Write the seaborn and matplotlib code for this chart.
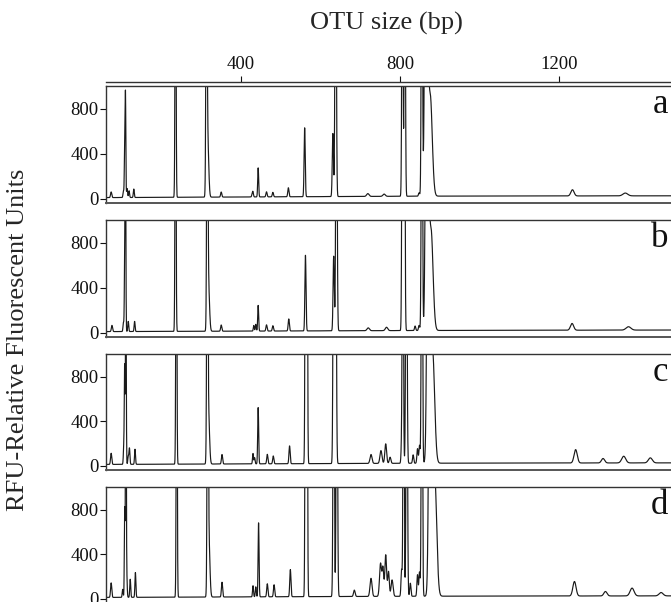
import numpy as np
import pandas as pd
import matplotlib
matplotlib.use("Agg")
import matplotlib.pyplot as plt
import seaborn as sns

# Peak tables (size in bp, height in RFU, width sd in bp)
a_bp = [73, 104, 107, 109, 113, 118, 130, 235, 313, 316, 350, 428, 430, 443, 464, 480, 519,
        560, 631, 638, 719, 760, 806, 812, 848, 855, 866, 876, 1234, 1367]
a_rfu = [50, 60, 470, 915, 80, 60, 75, 3000, 3000, 500, 45, 30, 40, 258, 45, 40, 80,
         612, 560, 3000, 25, 20, 3000, 3000, 30, 3000, 5000, 900, 55, 25]
a_sd = [1.5, 1.2, 0.9, 0.9, 1.2, 1.2, 1.2, 1.2, 1.4, 2.5, 1.5, 1.2, 1.2, 1.2, 1.5, 1.5, 1.5,
        1.4, 1.5, 1.6, 3, 3, 1.4, 1.4, 1.5, 1.5, 3.0, 5, 4, 6]

b_bp = [75, 104, 107, 109, 116, 132, 235, 315, 318, 350, 432, 437, 443, 464, 480, 520, 562,
        633, 640, 720, 766, 806, 811, 838, 848, 855, 868, 878, 1233, 1375]
b_rfu = [55, 80, 604, 2000, 90, 90, 3000, 3000, 400, 55, 50, 60, 228, 55, 47, 107, 672,
         663, 3000, 25, 30, 3000, 3000, 40, 45, 3000, 5000, 900, 60, 30]
b_sd = [1.5, 1.2, 0.9, 0.9, 1.2, 1.2, 1.2, 1.4, 2.5, 1.5, 1.2, 1.2, 1.2, 1.5, 1.5, 1.5, 1.4,
        1.5, 1.6, 3, 3, 1.4, 1.4, 1.5, 1.5, 1.5, 3.0, 5, 4, 6]

c_bp = [73, 105, 107, 110, 116, 119, 133, 237, 315, 318, 352, 430, 434, 443, 466, 481, 522,
        562, 566, 633, 638, 727, 752, 764, 775, 804, 807, 816, 833, 844, 849, 855, 872, 882,
        1242, 1311, 1363, 1430]
c_rfu = [100, 175, 850, 2000, 70, 145, 135, 3000, 3000, 450, 85, 93, 55, 504, 85, 70, 160,
         3000, 3000, 3000, 3000, 80, 115, 175, 55, 160, 3000, 3000, 75, 130, 160, 3000, 5000, 1000,
         120, 40, 60, 45]
c_sd = [1.5, 1.2, 0.9, 0.9, 1.2, 1.2, 1.2, 1.2, 1.4, 2.5, 1.5, 1.2, 1.2, 1.2, 1.5, 1.5, 1.5,
        1.2, 1.2, 1.5, 1.6, 2.5, 2.5, 2.2, 2, 1.4, 1.4, 1.6, 1.5, 1.5, 1.5, 1.5, 3.2, 5,
        4, 4, 5, 5]

d_bp = [73, 102, 107, 110, 112, 121, 134, 238, 316, 319, 352, 430, 437, 444, 466, 483, 524,
        562, 566, 633, 641, 685, 727, 751, 757, 764, 771, 780, 804, 809, 817, 826, 844, 849,
        855, 877, 887, 1239, 1317, 1384, 1457]
d_rfu = [130, 72, 800, 3000, 207, 162, 222, 3000, 3000, 500, 132, 100, 90, 663, 117, 108, 243,
         3000, 3000, 3000, 3000, 57, 162, 297, 252, 372, 222, 147, 237, 3000, 3000, 117, 192, 216,
         3000, 5000, 1100, 130, 40, 70, 30]
d_sd = [1.5, 1.2, 0.9, 0.9, 1.2, 1.2, 1.2, 1.2, 1.4, 2.5, 1.5, 1.2, 1.2, 1.2, 1.5, 1.5, 1.5,
        1.2, 1.2, 1.5, 1.6, 2, 2.5, 2.5, 2.0, 2.2, 2.0, 2.5, 1.5, 1.4, 1.6, 1.5, 1.5, 1.5,
        1.5, 3.4, 5, 4, 4, 5, 5]

# Background level of each trace
base_bp = [60, 870, 1482]
base_a = [12, 25, 28]
base_b = [12, 22, 26]
base_c = [14, 25, 28]
base_d = [14, 25, 28]

panel_names = ["a", "b", "c", "d"]
y_ticks = [0, 400, 800]
x_ticks = [400, 800, 1200]

sns.set_style("ticks")
plt.rcParams["font.family"] = ["Liberation Serif", "DejaVu Serif"]

W, H = 671, 602
fig = plt.figure(figsize=(W / 100, H / 100), dpi=100)

grid = np.arange(60, 1482, 0.25)


def trace(bp, rfu, sd, base):
    y = np.interp(grid, base_bp, base)
    for p, h, s in zip(bp, rfu, sd):
        y = y + h * np.exp(-0.5 * ((grid - p) / s) ** 2)
    return pd.DataFrame({"bp": grid, "rfu": y})


traces = [trace(a_bp, a_rfu, a_sd, base_a), trace(b_bp, b_rfu, b_sd, base_b),
          trace(c_bp, c_rfu, c_sd, base_c), trace(d_bp, d_rfu, d_sd, base_d)]

# pixel rows of each panel (top, bottom)
rows = [(86, 203), (220, 337), (354, 470), (487, 603)]
left = 106 / W
width = 1 - left

for (top, bot), df, name in zip(rows, traces, panel_names):
    ax = fig.add_axes([left, 1 - bot / H, width, (bot - top) / H])
    sns.lineplot(data=df, x="bp", y="rfu", ax=ax, color="#1a1a1a", linewidth=0.85,
                 estimator=None, sort=False)
    ax.set_xlim(60, 1482)
    ax.set_ylim(-36, 1004)
    ax.set_yticks(y_ticks)
    ax.set_xticks([])
    ax.set_xlabel("")
    ax.set_ylabel("")
    ax.tick_params(axis="y", labelsize=13.5, length=4.5, width=0.8, pad=1, colors="#111")
    for side in ["left", "top", "bottom"]:
        ax.spines[side].set_color("#333")
        ax.spines[side].set_linewidth(1.0)
    ax.spines["bottom"].set_linewidth(1.4)
    ax.spines["bottom"].set_color("#555")
    ax.spines["right"].set_visible(False)
    ax.text(0.995, 0.77, name, transform=ax.transAxes, ha="right", va="baseline",
            fontsize=25, color="#111")

# size axis along the top
ax_top = fig.add_axes([left, 1 - 82 / H, width, 0.0001])
ax_top.set_xlim(60, 1482)
ax_top.set_xticks(x_ticks)
ax_top.set_yticks([])
ax_top.xaxis.set_ticks_position("top")
ax_top.xaxis.set_label_position("top")
ax_top.tick_params(axis="x", labelsize=13.5, length=4.5, width=0.8, pad=2, colors="#111")
for side in ["left", "right", "bottom"]:
    ax_top.spines[side].set_visible(False)
ax_top.spines["top"].set_color("#333")
ax_top.spines["top"].set_linewidth(1.0)
ax_top.patch.set_visible(False)

fig.text(386 / W, 1 - 23 / H, "OTU size (bp)", ha="center", va="center", fontsize=19)
fig.text(18 / W, 1 - 340 / H, "RFU-Relative Fluorescent Units", ha="center", va="center",
         rotation=90, fontsize=19)

fig.savefig("out.png", dpi=100)
